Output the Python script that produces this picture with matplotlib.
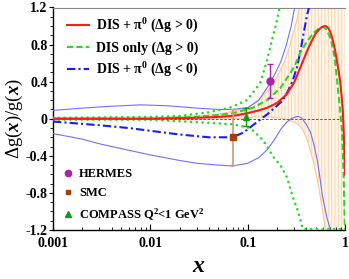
import matplotlib
matplotlib.use('Agg')
import matplotlib.pyplot as plt
from matplotlib.ticker import MultipleLocator, LogLocator, NullFormatter
from matplotlib.lines import Line2D

plt.rcParams['font.family'] = 'Liberation Serif'
plt.rcParams['font.weight'] = 'bold'
plt.rcParams['mathtext.fontset'] = 'custom'
plt.rcParams['mathtext.rm'] = 'Liberation Serif:bold'
plt.rcParams['mathtext.it'] = 'Liberation Serif:bold:italic'
plt.rcParams['mathtext.bf'] = 'Liberation Serif:bold'
plt.rcParams['hatch.linewidth'] = 0.7

# ---- data ----
# DIS + pi0 (dg>0) central
red_x = [0.001, 0.01, 0.03, 0.05, 0.07, 0.1, 0.13, 0.16, 0.2, 0.25, 0.3, 0.35, 0.4, 0.45,
         0.5, 0.55, 0.58, 0.62, 0.65, 0.68, 0.71, 0.74, 0.765, 0.79, 0.815, 0.84, 0.865,
         0.89, 0.91, 0.93, 0.95, 0.96, 0.975, 0.99, 1.0]
red_y = [0.0, 0.0, 0.01, 0.02, 0.03, 0.06, 0.09, 0.12, 0.17, 0.26, 0.39, 0.56, 0.71, 0.83,
         0.92, 0.97, 0.99, 1.0, 0.995, 0.97, 0.93, 0.87, 0.81, 0.74, 0.66, 0.58, 0.5,
         0.41, 0.31, 0.2, 0.09, -0.03, -0.2, -0.42, -0.6]

# DIS only (dg>0) central
grn_x = [0.001, 0.01, 0.03, 0.05, 0.071, 0.114, 0.158, 0.216, 0.273, 0.307, 0.346, 0.41,
         0.49, 0.55, 0.6, 0.65, 0.7, 0.735, 0.77, 0.8, 0.83, 0.86, 0.89, 0.91, 0.93, 0.95,
         0.97, 0.985, 1.0]
grn_y = [0.0, 0.0, 0.02, 0.04, 0.06, 0.12, 0.2, 0.33, 0.49, 0.58, 0.71, 0.84,
         0.94, 0.98, 0.99, 0.96, 0.88, 0.8, 0.7, 0.57, 0.41, 0.25, 0.09, -0.02, -0.12, -0.35,
         -0.63, -0.95, -1.2]

# DIS only uncertainty (dotted)
gup_x = [0.001, 0.01, 0.02, 0.04, 0.066, 0.098, 0.134, 0.158, 0.178, 0.2, 0.22]
gup_y = [0.01, 0.02, 0.03, 0.07, 0.12, 0.2, 0.38, 0.63, 0.85, 1.06, 1.27]
glo_x = [0.001, 0.01, 0.034, 0.071, 0.106, 0.144, 0.183, 0.216, 0.253, 0.29, 0.33, 0.36,
         0.37, 0.5, 0.7, 1.0]
glo_y = [-0.01, -0.01, -0.04, -0.06, -0.1, -0.23, -0.41, -0.5, -0.63, -0.84, -1.0, -1.15,
         -1.19, -1.19, -1.19, -1.19]

# DIS + pi0 (dg<0) central
bdd_x = [0.001, 0.003, 0.006, 0.01, 0.02, 0.04, 0.07, 0.09, 0.11, 0.13, 0.16, 0.2, 0.23,
         0.26, 0.29, 0.32, 0.35, 0.38, 0.41, 0.44]
bdd_y = [-0.03, -0.07, -0.1, -0.13, -0.17, -0.2, -0.2, -0.15, -0.08, -0.02, 0.05, 0.14, 0.2,
         0.3, 0.41, 0.55, 0.74, 0.95, 1.13, 1.25]

# DIS + pi0 (dg<0) uncertainty (thin)
bup_x = [0.001, 0.002, 0.004, 0.008, 0.015, 0.03, 0.05, 0.07, 0.1, 0.13, 0.16, 0.19, 0.22,
         0.25, 0.28, 0.31]
bup_y = [0.09, 0.115, 0.135, 0.15, 0.14, 0.115, 0.1, 0.1, 0.12, 0.2, 0.34, 0.48, 0.62,
         0.8, 1.0, 1.25]
blo_x = [0.001, 0.002, 0.003, 0.006, 0.01, 0.02, 0.03, 0.05, 0.07, 0.1, 0.13, 0.16, 0.19,
         0.22, 0.25, 0.28, 0.31, 0.33, 0.35, 0.37, 0.4, 0.44, 0.48, 0.52, 0.55, 0.58, 0.62,
         0.65, 0.7, 0.72]
blo_y = [-0.16, -0.22, -0.27, -0.34, -0.39, -0.45, -0.48, -0.5, -0.51, -0.48, -0.42, -0.33,
         -0.22, -0.11, -0.04, 0.0, 0.02, 0.025, 0.015, -0.01, -0.06, -0.14, -0.28, -0.45,
         -0.62, -0.8, -0.96, -1.06, -1.18, -1.25]

# DIS + pi0 (dg>0) uncertainty band
band_x = [0.001, 0.003, 0.01, 0.03, 0.05, 0.07, 0.1, 0.13, 0.16, 0.2, 0.24, 0.27, 0.3, 0.32,
          0.35, 0.37, 0.41, 0.47, 0.53, 0.58, 0.63, 0.7, 0.8, 0.9, 1.0]
band_hi = [0.01, 0.01, 0.01, 0.03, 0.05, 0.08, 0.12, 0.2, 0.3, 0.45, 0.62, 0.78, 0.96, 1.06,
           1.25, 1.4, 1.4, 1.4, 1.4, 1.4, 1.4, 1.4, 1.4, 1.4, 1.4]
band_lo = [-0.01, -0.01, -0.01, -0.01, 0.0, 0.0, 0.01, 0.02, 0.02, 0.01, 0.0, -0.02, -0.04,
           -0.05, -0.09, -0.12, -0.23, -0.45, -0.7, -0.95, -1.2, -1.4, -1.4, -1.4, -1.4]

# experimental points
exp_names = ['HERMES', 'SMC', r'COMPASS Q$^2$<1 GeV$^2$']
exp_x = [0.17, 0.071, 0.096]
exp_y = [0.41, -0.2, 0.02]
exp_err = [0.185, 0.3, 0.1]

yticks = [-1.2, -0.8, -0.4, 0, 0.4, 0.8, 1.2]
ytick_labels = ['-1.2', '-0.8', '-0.4', '0', '0.4', '0.8', '1.2']
xticks = [0.001, 0.01, 0.1, 1]
xtick_labels = ['0.001', '0.01', '0.1', '1']

# ---- figure ----
fig = plt.figure(figsize=(3.49, 2.79), dpi=100)
ax = fig.add_axes([53/349, 1-230/279, 292/349, 222.5/279])
ax.set_xscale('log')
ax.set_xlim(0.001, 1)
ax.set_ylim(-1.2, 1.2)

ax.fill_between(band_x, band_lo, band_hi, facecolor='#fff6ec', edgecolor='#fdd6ae',
                hatch='|||||', linewidth=0, zorder=1)
ax.plot(band_x, band_hi, color='#f9c896', lw=0.8, zorder=2)
ax.plot(band_x, band_lo, color='#f9c896', lw=0.8, zorder=2)

ax.plot(bup_x, bup_y, color='#7070ff', lw=0.8, zorder=3)
ax.plot(blo_x, blo_y, color='#7070ff', lw=0.8, zorder=3)

ax.plot(gup_x, gup_y, color='#22dd22', lw=1.8, linestyle=(0, (0.1, 2.2)),
        dash_capstyle='round', zorder=4)
ax.plot(glo_x, glo_y, color='#22dd22', lw=1.8, linestyle=(0, (0.1, 2.2)),
        dash_capstyle='round', zorder=4)

ax.axhline(0, color='#444444', lw=0.6, linestyle=(0, (3, 2)), zorder=4)

l3, = ax.plot(bdd_x, bdd_y, color='#1a1aff', lw=1.5, linestyle=(0, (4, 1.5, 1, 1.5)), zorder=5)
l2, = ax.plot(grn_x, grn_y, color='#22dd22', lw=1.5, linestyle=(0, (3, 1.5)), zorder=6)
l1, = ax.plot(red_x, red_y, color='#ff1a1a', lw=1.5, zorder=7)

# experimental data
ax.errorbar([exp_x[0]], [exp_y[0]], yerr=[exp_err[0]], fmt='o', color='#aa22aa',
            ms=5, capsize=2.5, elinewidth=1, capthick=1, zorder=8)
ax.errorbar([exp_x[1]], [exp_y[1]], yerr=[exp_err[1]], fmt='none', ecolor='#d09878',
            capsize=2.5, elinewidth=1.2, capthick=1, zorder=8)
ax.plot([exp_x[1]], [exp_y[1]], 's', color='#a0400a', ms=4, zorder=9)
ax.errorbar([exp_x[2]], [exp_y[2]], yerr=[exp_err[2]], fmt='^', color='#119911',
            ms=5, capsize=2.5, elinewidth=1, capthick=1, zorder=8)

leg1 = ax.legend([l1, l2, l3],
                 [r'DIS + π$^0$ (Δg > 0)', r'DIS only (Δg > 0)', r'DIS + π$^0$ (Δg < 0)'],
                 loc='upper left', bbox_to_anchor=(0.02, 0.995), frameon=False,
                 fontsize=10, handlelength=1.6, handletextpad=0.45, labelspacing=0.45,
                 borderaxespad=0.2)
ax.add_artist(leg1)
m1 = Line2D([], [], marker='o', color='#aa22aa', ls='none', ms=4.5)
m2 = Line2D([], [], marker='s', color='#a0400a', ls='none', ms=3.5)
m3 = Line2D([], [], marker='^', color='#119911', ls='none', ms=4.5)
ax.legend([m1, m2, m3], exp_names, loc='lower left', bbox_to_anchor=(0.01, 0.0),
          frameon=False, fontsize=9, handlelength=0.8, handletextpad=0.45,
          labelspacing=0.55, borderaxespad=0.2)

# axes styling
ax.set_yticks(yticks)
ax.set_yticklabels(ytick_labels)
ax.yaxis.set_minor_locator(MultipleLocator(0.1))
ax.set_xticks(xticks)
ax.set_xticklabels(xtick_labels)
ax.xaxis.set_minor_locator(LogLocator(base=10, subs=range(2, 10)))
ax.xaxis.set_minor_formatter(NullFormatter())
ax.tick_params(axis='y', which='major', direction='out', length=3, width=0.8, labelsize=10, pad=1)
ax.tick_params(axis='y', which='minor', direction='out', length=2, width=0.6)
ax.tick_params(axis='x', which='major', direction='in', length=4, width=0.8, labelsize=10, pad=5)
ax.tick_params(axis='x', which='minor', direction='in', length=2, width=0.6)
for lab in ax.get_xticklabels() + ax.get_yticklabels():
    lab.set_fontweight('bold')

ax.spines['top'].set_color('#888888')
ax.spines['right'].set_visible(False)
ax.spines['left'].set_linewidth(1.0)
ax.spines['bottom'].set_linewidth(1.0)

ax.set_ylabel(r'Δg($x$)/g($x$)', fontsize=13.5, labelpad=0)
ax.set_xlabel(r'$x$', fontsize=17, labelpad=4)

fig.savefig('out.png', dpi=100)
